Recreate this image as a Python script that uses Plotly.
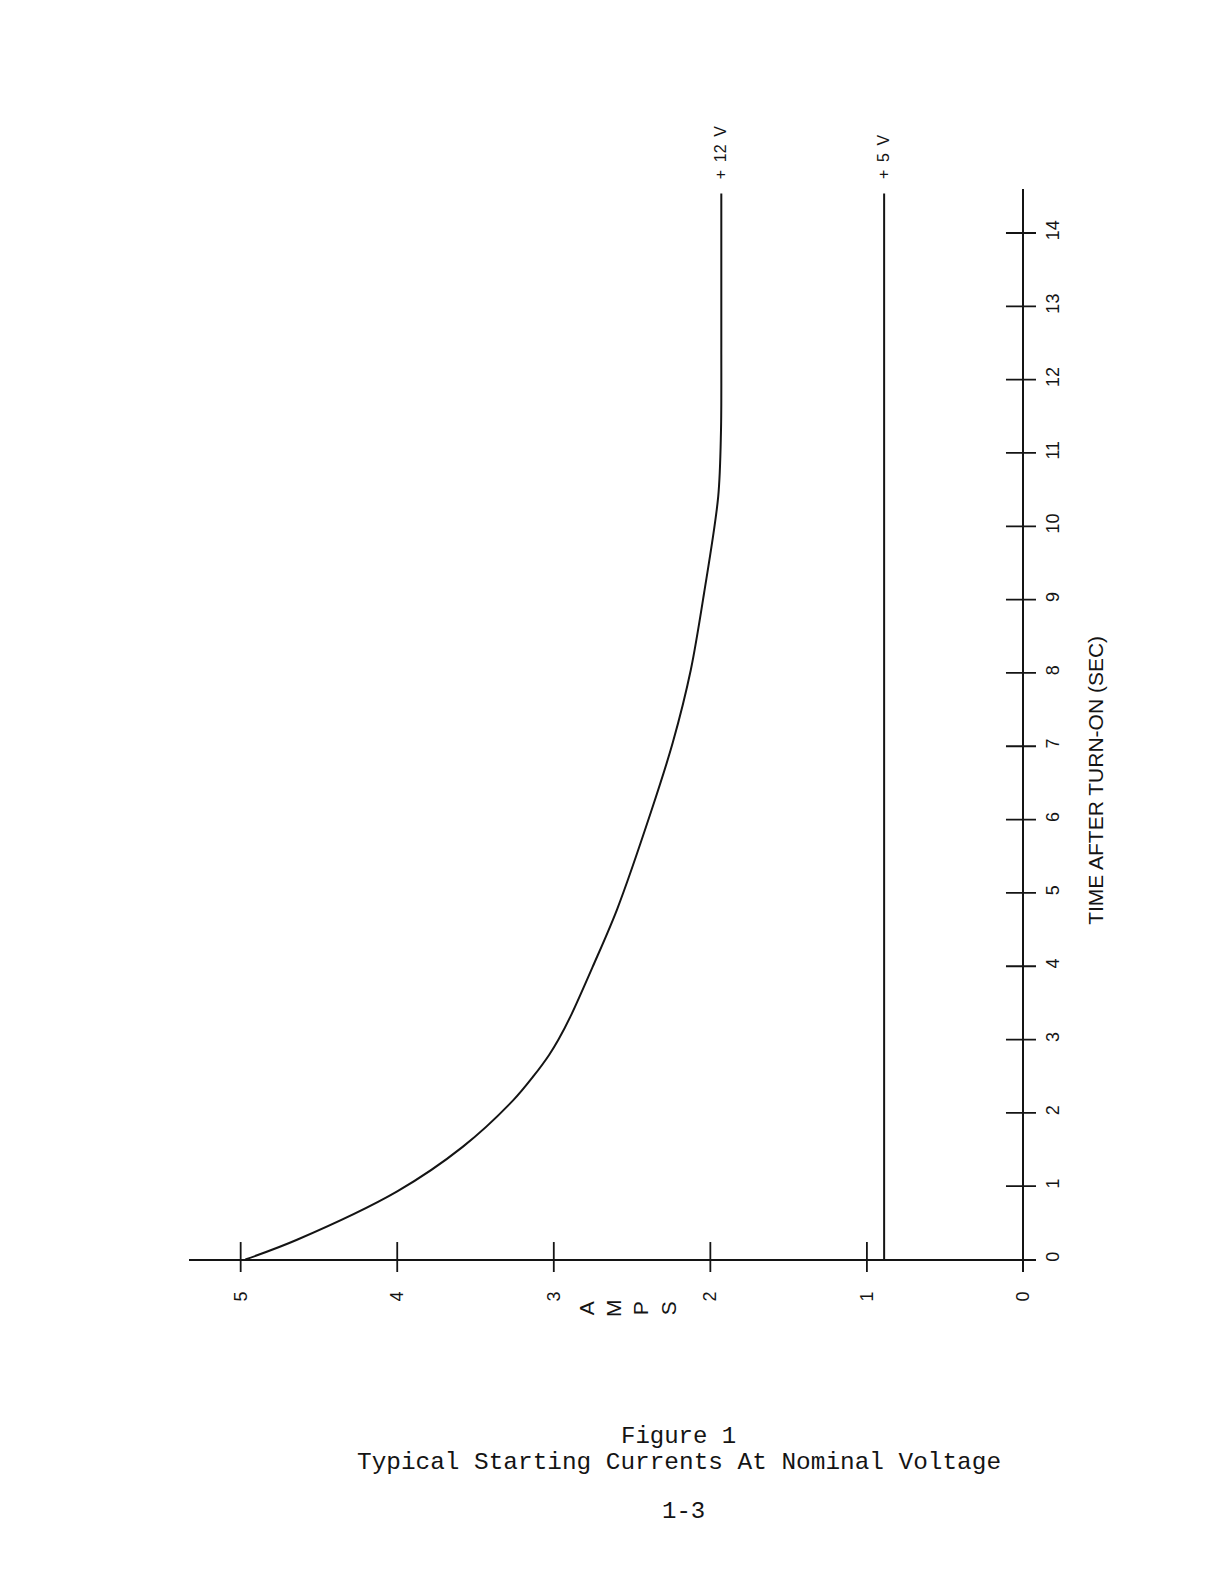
import plotly.graph_objects as go

# ---- data ----
time_12v = [0.0, 0.27, 0.93, 1.54, 2.17, 2.50, 2.79, 3.00, 3.33, 4.00, 4.78, 6.10, 7.05, 8.04, 9.09, 10.40, 11.31, 12.44, 14.54]
amps_12v = [4.97, 4.64, 4.00, 3.58, 3.26, 3.13, 3.03, 2.97, 2.89, 2.75, 2.595, 2.38, 2.24, 2.125, 2.04, 1.95, 1.932, 1.93, 1.93]
time_5v = [0.0, 14.54]
amps_5v = [0.89, 0.89]
series_labels = ["+ 12 V", "+ 5 V"]

amps_ticks = [0, 1, 2, 3, 4, 5]
time_ticks = list(range(0, 15))
amps_title = "A<br>M<br>P<br>S"
time_title = "TIME AFTER TURN-ON (SEC)"
caption_1 = "Figure 1"
caption_2 = "Typical Starting Currents At Nominal Voltage"
page_no = "1-3"

INK = "#141414"
SANS = "Liberation Sans, Arial, sans-serif"
MONO = "Liberation Mono, Courier New, monospace"

fig = go.Figure()

# curves
fig.add_trace(go.Scatter(x=amps_12v, y=time_12v, mode="lines",
                         line=dict(color=INK, width=2, shape="spline", smoothing=0.9),
                         hoverinfo="skip"))
fig.add_trace(go.Scatter(x=amps_5v, y=time_5v, mode="lines",
                         line=dict(color=INK, width=2), hoverinfo="skip"))

# crossing tick marks on both axes
at = [a for a in amps_ticks if a != 0]
tt = [t for t in time_ticks if t != 0]
fig.add_trace(go.Scatter(x=at, y=[0] * len(at), mode="markers",
                         marker=dict(symbol="line-ns", size=25, line=dict(color=INK, width=1.8)),
                         hoverinfo="skip"))
fig.add_trace(go.Scatter(x=[0] * len(tt), y=tt, mode="markers",
                         marker=dict(symbol="line-ew", size=25, line=dict(color=INK, width=1.8)),
                         hoverinfo="skip"))

# series labels (rotated like the rest of the chart)
for lbl, xs, ys in [(series_labels[0], amps_12v, time_12v), (series_labels[1], amps_5v, time_5v)]:
    fig.add_annotation(x=xs[-1], y=ys[-1], xref="x", yref="y",
                       text=lbl.replace(" ", "\u00a0\u2009"), showarrow=False,
                       textangle=-90, xanchor="center", yanchor="bottom", yshift=12,
                       font=dict(family=SANS, size=16, color=INK))

# axis titles
fig.add_annotation(x=2.53, y=-0.0328, xref="x", yref="paper", text=amps_title, showarrow=False,
                   textangle=-90, xanchor="center", yanchor="middle",
                   font=dict(family=SANS, size=21, color=INK))
fig.add_annotation(x=1.071, y=6.53, xref="paper", yref="y", text=time_title, showarrow=False,
                   textangle=-90, xanchor="center", yanchor="middle",
                   font=dict(family=SANS, size=21, color=INK))

# caption
for txt, yy, fs in [(caption_1, -0.1518, 24), (caption_2, -0.1758, 24.4)]:
    fig.add_annotation(x=0.578, y=yy, xref="paper", yref="paper", text=txt, showarrow=False,
                       xanchor="center", yanchor="middle",
                       font=dict(family=MONO, size=fs, color=INK))
fig.add_annotation(x=0.5835, y=-0.2215, xref="paper", yref="paper", text=page_no, showarrow=False,
                   xanchor="center", yanchor="middle",
                   font=dict(family=MONO, size=24, color=INK))

fig.update_layout(
    width=1232, height=1584,
    margin=dict(l=181, r=204, t=181, b=320, pad=0),
    paper_bgcolor="white", plot_bgcolor="white",
    showlegend=False,
    xaxis=dict(range=[5.33, -0.08], tickvals=amps_ticks, ticktext=[str(a) for a in amps_ticks],
               tickangle=-90, showgrid=False, showline=False, ticks="",
               zeroline=True, zerolinecolor=INK, zerolinewidth=2,
               ticklabelstandoff=15, tickfont=dict(family=SANS, size=18, color=INK)),
    yaxis=dict(range=[-0.17, 14.6], side="right", tickvals=time_ticks,
               ticktext=[str(t) for t in time_ticks],
               tickangle=-90, showgrid=False, showline=False, ticks="",
               zeroline=True, zerolinecolor=INK, zerolinewidth=2,
               ticklabelstandoff=4, tickfont=dict(family=SANS, size=18, color=INK)),
)

fig.write_html("out.html")
